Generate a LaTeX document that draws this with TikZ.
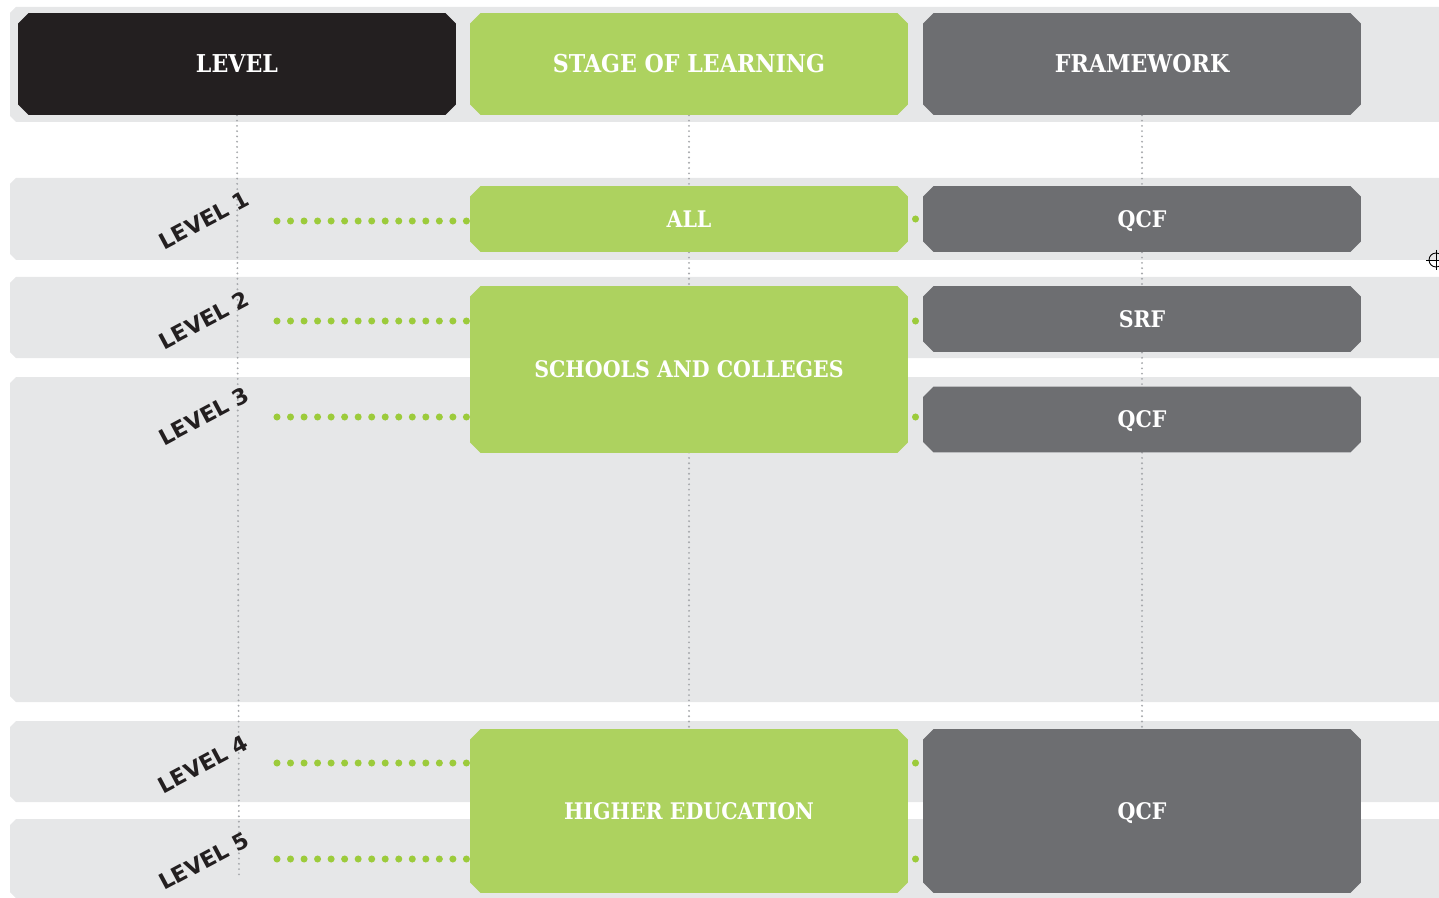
\documentclass[tikz,border=0pt]{standalone}
\usepackage{fontspec}
\setmainfont{DejaVu Serif Condensed}
\newfontfamily\levelfont{DejaVu Sans}
\usetikzlibrary{shapes.misc}
\usetikzlibrary{backgrounds}

\definecolor{bandgrey}{HTML}{E6E7E8}
\definecolor{levelblack}{HTML}{231F20}
\definecolor{stagegreen}{HTML}{ADD25F}
\definecolor{workgrey}{HTML}{6D6E71}
\definecolor{linegrey}{HTML}{A7A9AC}
\definecolor{dotgreen}{HTML}{9CCB3B}

\tikzset{
  box/.style={chamfered rectangle, chamfered rectangle xsep=3pt, chamfered rectangle ysep=3pt,
    inner sep=0pt, text=white, minimum width=8.76cm, text height=9.5pt, text depth=0pt,
    font=\bfseries\fontsize{13}{15}\selectfont},
  headbox/.style={box, minimum height=2.04cm, text height=10.2pt, font=\bfseries\fontsize{14}{16}\selectfont},
  rowbox/.style={box, minimum height=1.32cm},
  levellabel/.style={rotate=28, text=levelblack, font=\levelfont\bfseries\fontsize{12.5}{14}\selectfont},
  vline/.style={draw=linegrey, line width=1.2pt, line cap=round, dash pattern=on 0pt off 3pt},
  greendots/.style={draw=dotgreen, line width=4pt, line cap=round, dash pattern=on 0pt off 7.7pt},
  dot/.style={circle, fill=dotgreen, inner sep=0pt, minimum size=4pt}
}

\begin{document}
\begin{tikzpicture}[x=0.02cm, y=-0.02cm]
\useasboundingbox (0,0) rectangle (1439,898);

% header
\node[headbox, fill=levelblack] (level) at (237,64) {LEVEL};
\node[headbox, fill=stagegreen] (stage) at (689,64) {STAGE OF LEARNING};
\node[headbox, fill=workgrey] (framework) at (1142,64) {FRAMEWORK};

% stages and frameworks
\node[rowbox, fill=stagegreen] (all) at (689,219) {ALL};
\node[rowbox, fill=workgrey] (qcfa) at (1142,219) {QCF};
\node[box, fill=stagegreen, minimum height=3.34cm] (schools) at (689,369.5) {SCHOOLS AND COLLEGES};
\node[rowbox, fill=workgrey] (srf) at (1142,319) {SRF};
\node[rowbox, fill=workgrey] (qcfb) at (1142,419.5) {QCF};
\node[box, fill=stagegreen, minimum height=3.28cm] (higher) at (689,811) {HIGHER EDUCATION};
\node[box, fill=workgrey, minimum height=3.28cm] (qcfc) at (1142,811) {QCF};

% levels
\node[levellabel] (lev1) at (204,220) {LEVEL 1};
\node[levellabel] (lev2) at (204,320) {LEVEL 2};
\node[levellabel] (lev3) at (204,416) {LEVEL 3};
\node[levellabel] (lev4) at (203,764) {LEVEL 4};
\node[levellabel] (lev5) at (204,861) {LEVEL 5};

\coordinate (d1) at (277,221);
\coordinate (d2) at (277,321);
\coordinate (d3) at (277,417);
\coordinate (d4) at (277,763);
\coordinate (d5) at (277,859);
\coordinate (levelend) at (239,875);

\begin{pgfonlayer}{background}
% grey bands
\foreach \t/\b in {7/122,178/260,277/358,377/702,721/802,819/898}
  \fill[bandgrey] (16,\t) -- (1439,\t) -- (1439,\b) -- (16,\b) -- (10,\b-6) -- (10,\t+6) -- cycle;

% columns
\draw[vline] (level.south) -- (levelend);
\draw[vline] (stage.south) -- (higher.north);
\draw[vline] (framework.south) -- (qcfc.north);

% rows
\draw[greendots] (d1) -- (d1 -| all.west);
\draw[greendots] (d2) -- (d2 -| schools.west);
\draw[greendots] (d3) -- (d3 -| schools.west);
\draw[greendots] (d4) -- (d4 -| higher.west);
\draw[greendots] (d5) -- (d5 -| higher.west);
\end{pgfonlayer}

\path (all.east) -- node[dot] {} (qcfa.west);
\path (d2 -| schools.east) -- node[dot] {} (d2 -| srf.west);
\path (d3 -| schools.east) -- node[dot] {} (d3 -| qcfb.west);
\path (d4 -| higher.east) -- node[dot] {} (d4 -| qcfc.west);
\path (d5 -| higher.east) -- node[dot] {} (d5 -| qcfc.west);

% crop mark
\draw[black, line width=0.5pt] (1436,260) circle (0.14cm);
\draw[black, line width=0.5pt] (1426,260) -- (1446,260) (1436,250) -- (1436,270);
\end{tikzpicture}
\end{document}
